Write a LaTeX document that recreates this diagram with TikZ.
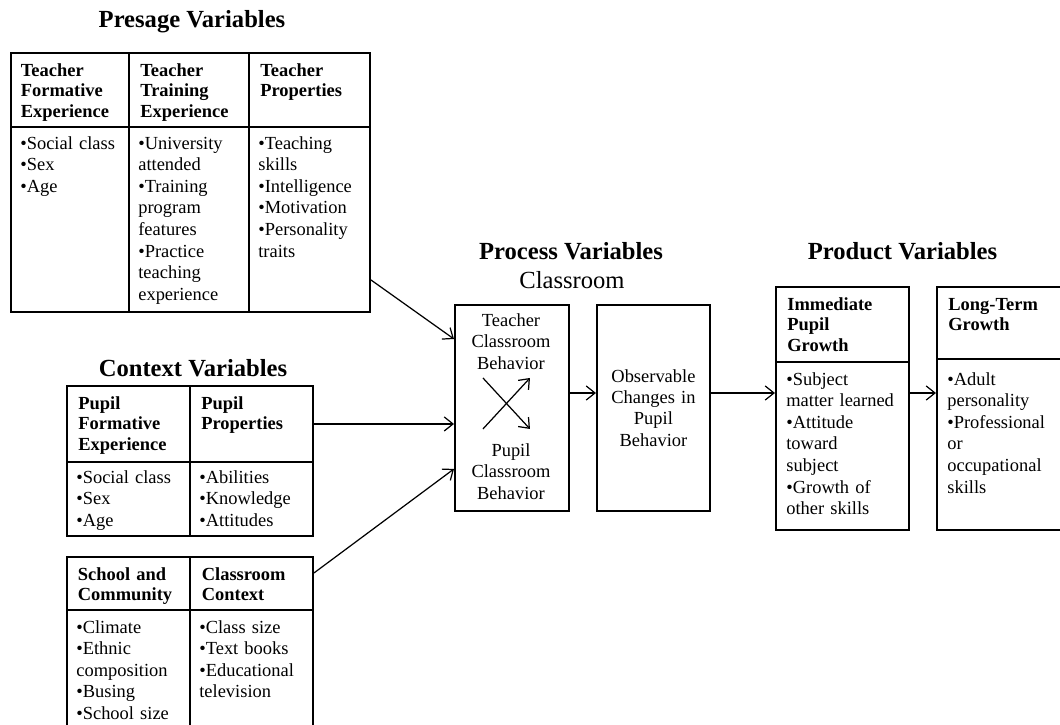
\documentclass[tikz,border=0pt]{standalone}
\usepackage{fontspec}
\setmainfont{Liberation Serif}
\usetikzlibrary{arrows.meta,calc}

\begin{document}
\begin{tikzpicture}[scale=0.2]
                  \tikzstyle{every node}+=[inner sep=0pt]
                  \tikzstyle{cell}=[draw, line width=1.1pt, anchor=north west]
                  \tikzstyle{vartitle}=[anchor=base, font=\bfseries\fontsize{14}{16}\selectfont]
                  \tikzstyle{head}=[anchor=base west, align=left, text width=2.4cm, font=\bfseries\fontsize{10.5}{11.8}\selectfont]
                  \tikzstyle{items}=[anchor=base west, align=left, text width=2.4cm, font=\fontsize{10.5}{12.3}\selectfont]
                  \tikzstyle{boxtext}=[align=center, text width=2.2cm, font=\fontsize{10.5}{12.1}\selectfont]
                  \tikzstyle{link}=[-{Straight Barb[length=5pt,width=8pt]}, line width=0.7pt]
                  \useasboundingbox (0,0) rectangle (106,-72.5);
                  % presage variables
                  \draw (19.2,-2.73) node [vartitle] (ttlpre) {Presage Variables};
                  \draw (1.0,-5.2) node [cell, minimum width=2.36cm, minimum height=1.48cm] (ptfh) {};
                  \draw (12.8,-5.2) node [cell, minimum width=2.40cm, minimum height=1.48cm] (ptth) {};
                  \draw (24.8,-5.2) node [cell, minimum width=2.42cm, minimum height=1.48cm] (ptph) {};
                  \draw (1.0,-12.6) node [cell, minimum width=2.36cm, minimum height=3.70cm] (ptfb) {};
                  \draw (12.8,-12.6) node [cell, minimum width=2.40cm, minimum height=3.70cm] (pttb) {};
                  \draw (24.8,-12.6) node [cell, minimum width=2.42cm, minimum height=3.70cm] (ptpb) {};
                  \draw (2.05,-7.6) node [head] (tfe) {Teacher\\Formative\\Experience};
                  \draw (14.0,-7.6) node [head] (tte) {Teacher\\Training\\Experience};
                  \draw (26.0,-7.6) node [head] (tpr) {Teacher\\Properties};
                  \draw (2.0,-14.9) node [items] (tfel) {•Social class\\•Sex\\•Age};
                  \draw (13.8,-14.9) node [items] (ttel) {•University\\attended\\•Training\\program\\features\\•Practice\\teaching\\experience};
                  \draw (25.8,-14.9) node [items] (tprl) {•Teaching\\skills\\•Intelligence\\•Motivation\\•Personality\\traits};
                  % context variables
                  \draw (19.3,-37.67) node [vartitle] (ttlctx) {Context Variables};
                  \draw (6.6,-38.5) node [cell, minimum width=2.46cm, minimum height=1.52cm] (ppfh) {};
                  \draw (18.9,-38.5) node [cell, minimum width=2.46cm, minimum height=1.52cm] (ppph) {};
                  \draw (6.6,-46.1) node [cell, minimum width=2.46cm, minimum height=1.48cm] (ppfb) {};
                  \draw (18.9,-46.1) node [cell, minimum width=2.46cm, minimum height=1.48cm] (pppb) {};
                  \draw (7.8,-40.9) node [head] (pfe) {Pupil\\Formative\\Experience};
                  \draw (20.1,-40.9) node [head] (ppr) {Pupil\\Properties};
                  \draw (7.6,-48.3) node [items] (pfel) {•Social class\\•Sex\\•Age};
                  \draw (19.9,-48.3) node [items] (pprl) {•Abilities\\•Knowledge\\•Attitudes};
                  \draw (6.6,-55.6) node [cell, minimum width=2.46cm, minimum height=1.06cm] (sch) {};
                  \draw (18.9,-55.6) node [cell, minimum width=2.46cm, minimum height=1.06cm] (cch) {};
                  \draw (6.6,-60.9) node [cell, minimum width=2.46cm, minimum height=2.60cm] (scb) {};
                  \draw (18.9,-60.9) node [cell, minimum width=2.46cm, minimum height=2.60cm] (ccb) {};
                  \draw (7.75,-58.0) node [head] (sco) {School and\\Community};
                  \draw (20.15,-58.0) node [head] (cco) {Classroom\\Context};
                  \draw (7.6,-63.3) node [items] (scol) {•Climate\\•Ethnic\\composition\\•Busing\\•School size};
                  \draw (19.9,-63.3) node [items] (ccol) {•Class size\\•Text books\\•Educational\\television};
                  % process variables
                  \draw (57.1,-25.9) node [vartitle] (ttlpro) {Process Variables};
                  \draw (57.2,-28.8) node [anchor=base, font=\fontsize{14}{16}\selectfont] (ttlcls) {Classroom};
                  \draw (45.4,-30.4) node [cell, minimum width=2.28cm, minimum height=4.12cm] (tcb) {};
                  \draw (59.6,-30.4) node [cell, minimum width=2.26cm, minimum height=4.12cm] (ocb) {};
                  \draw (51.1,-32.67) node [boxtext, anchor=base] (tcbt) {Teacher\\Classroom\\Behavior};
                  \draw (51.1,-45.67) node [boxtext, anchor=base] (tcbp) {Pupil\\Classroom\\Behavior};
                  \draw (ocb.center) node [boxtext] (ocbt) {Observable\\Changes in\\Pupil\\Behavior};
                  % product variables
                  \draw (90.25,-25.9) node [vartitle] (ttlprd) {Product Variables};
                  \draw (77.5,-28.6) node [cell, minimum width=2.66cm, minimum height=1.50cm] (iph) {};
                  \draw (77.5,-36.1) node [cell, minimum width=2.66cm, minimum height=3.36cm] (ipb) {};
                  \draw (93.6,-28.6) node [cell, minimum width=2.64cm, minimum height=1.44cm] (lth) {};
                  \draw (93.6,-35.8) node [cell, minimum width=2.64cm, minimum height=3.42cm] (ltb) {};
                  \draw (78.7,-31.0) node [head] (ipg) {Immediate\\Pupil\\Growth};
                  \draw (94.8,-31.0) node [head] (ltg) {Long-Term\\Growth};
                  \draw (78.6,-38.5) node [items] (ipgl) {•Subject\\matter learned\\•Attitude\\toward\\subject\\•Growth of\\other skills};
                  \draw (94.7,-38.5) node [items] (ltgl) {•Adult\\personality\\•Professional\\or\\occupational\\skills};
                  % connectors
                  \coordinate (flowrow) at (0,-39.3);
                  \draw [link] ($(ptpb.south east)+(0,3.3)$) -- ($(tcb.north west)+(0,-3.5)$);
                  \draw [link] (ppph.east) -- (ppph.east -| tcb.west);
                  \draw [link] ($(cch.north east)+(0,-1.7)$) -- ($(tcb.south west)+(0,4.3)$);
                  \draw [link] ($(tcb.center)+(-2.9,3.0)$) -- ($(tcb.center)+(1.8,-2.1)$);
                  \draw [link] ($(tcb.center)+(-2.9,-2.1)$) -- ($(tcb.center)+(1.8,3.0)$);
                  \draw [link] (tcb.east |- flowrow) -- (ocb.west |- flowrow);
                  \draw [link] (ocb.east |- flowrow) -- (ipb.west |- flowrow);
                  \draw [link] (ipb.east |- flowrow) -- (ltb.west |- flowrow);
              \end{tikzpicture}
\end{document}
